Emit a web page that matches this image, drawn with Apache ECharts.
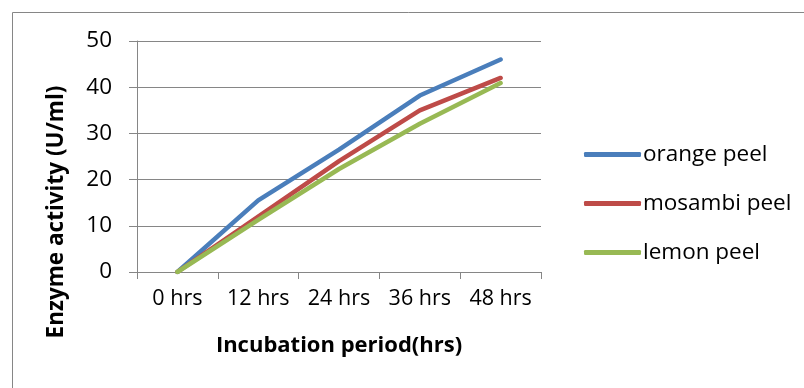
<!DOCTYPE html>
<html>
<head>
<meta charset="utf-8">
<script src="https://cdn.jsdelivr.net/npm/echarts@6/dist/echarts.min.js"></script>
<style>
  html, body { margin: 0; padding: 0; background: #fff; }
  #chart { width: 804px; height: 388px; }
</style>
</head>
<body>
<div id="chart"></div>
<script>
// Incubation time points
const categories = ['0 hrs', '12 hrs', '24 hrs', '36 hrs', '48 hrs'];

// Enzyme activity (U/ml) per peel substrate
const orangePeel = [0, 15.5, 26.5, 38.2, 46];
const mosambiPeel = [0, 12, 24, 35, 42];
const lemonPeel = [0, 11.3, 22.3, 32.1, 40.9];

const yTicks = { min: 0, max: 50, interval: 10 };

const FONT = '"Open Sans", "Liberation Sans", sans-serif';
const GRID_COLOR = '#868686';

const chart = echarts.init(document.getElementById('chart'), null, { renderer: 'canvas' });

function lineSeries(name, data, color) {
  return {
    name: name,
    type: 'line',
    data: data,
    symbol: 'none',
    smooth: false,
    lineStyle: { width: 4.5, color: color, cap: 'round', join: 'round' },
    itemStyle: { color: color }
  };
}

chart.setOption({
  animation: false,
  backgroundColor: '#fff',
  textStyle: { fontFamily: FONT },
  grid: { left: 137, top: 41, width: 404, height: 231, containLabel: false },
  xAxis: {
    type: 'category',
    data: categories,
    boundaryGap: true,
    axisLine: { lineStyle: { color: GRID_COLOR, width: 1 } },
    axisTick: { show: true, length: 7, inside: false, lineStyle: { color: GRID_COLOR } },
    axisLabel: { color: '#000', fontSize: 21.5, fontFamily: FONT, margin: 16, interval: 0, hideOverlap: false },
    name: 'Incubation period(hrs)',
    nameLocation: 'middle',
    nameGap: 63,
    nameTextStyle: { color: '#000', fontSize: 22, fontWeight: 'bold', fontFamily: FONT }
  },
  yAxis: {
    type: 'value',
    min: yTicks.min,
    max: yTicks.max,
    interval: yTicks.interval,
    axisLine: { show: true, lineStyle: { color: GRID_COLOR, width: 1 } },
    axisTick: { show: true, length: 8, lineStyle: { color: GRID_COLOR } },
    splitLine: { show: true, lineStyle: { color: GRID_COLOR, width: 1 } },
    axisLabel: { color: '#000', fontSize: 22.5, fontFamily: FONT, margin: 25 }
  },
  legend: {
    orient: 'vertical',
    left: 579,
    top: 138,
    itemWidth: 57,
    itemHeight: 5,
    itemGap: 26,
    icon: 'roundRect',
    textStyle: { color: '#000', fontSize: 22.5, fontFamily: FONT, padding: [0, 0, 0, -3] },
    data: ['orange peel', 'mosambi peel', 'lemon peel']
  },
  graphic: [
    {
      type: 'polyline',
      silent: true,
      shape: { points: [[12.5, 400], [12.5, 12.5], [820, 12.5]] },
      style: { fill: 'none', stroke: GRID_COLOR, lineWidth: 1 }
    },
    {
      type: 'text',
      x: 57,
      y: 212,
      rotation: Math.PI / 2,
      style: {
        text: 'Enzyme activity (U/ml)',
        fill: '#000',
        font: 'bold 22.5px ' + FONT,
        align: 'center',
        verticalAlign: 'middle'
      }
    }
  ],
  series: [
    lineSeries('orange peel', orangePeel, '#4A7EBB'),
    lineSeries('mosambi peel', mosambiPeel, '#BE4B48'),
    lineSeries('lemon peel', lemonPeel, '#98B954')
  ]
});
</script>
</body>
</html>
